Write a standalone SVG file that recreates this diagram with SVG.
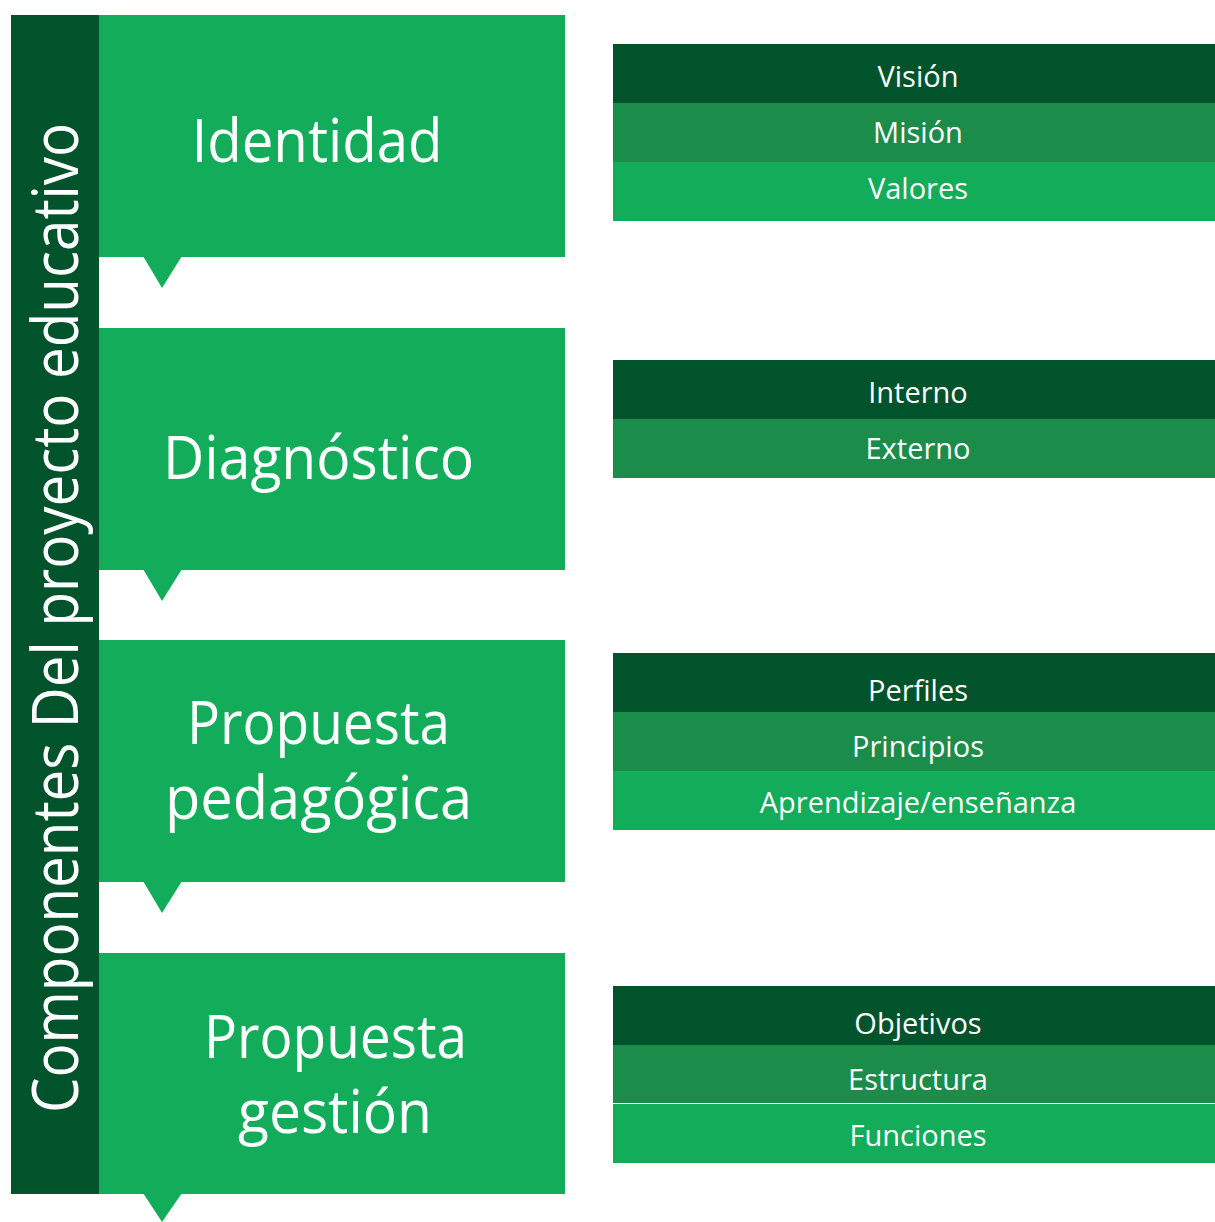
<svg xmlns="http://www.w3.org/2000/svg" width="1215" height="1222" viewBox="0 0 1215 1222">
<style>
.dark{fill:#01532C}
.mid{fill:#1B8C4A}
.light{fill:#13AC5A}
.big{font-family:"Open Sans","Noto Sans","Liberation Sans",sans-serif;font-size:60px;fill:#FFFFFF;text-anchor:middle}
.row{font-family:"Open Sans","Noto Sans","Liberation Sans",sans-serif;font-size:29px;fill:#FFFFFF;text-anchor:middle}
.side{font-family:"Open Sans","Noto Sans","Liberation Sans",sans-serif;font-size:64px;fill:#FFFFFF}
</style>
<rect width="1215" height="1222" fill="#FFFFFF"/>
<g id="title">
<rect class="dark" x="11" y="15" width="88" height="1179"/>
<text class="side" transform="translate(78,1113) rotate(-90)" x="0" y="0" textLength="990" lengthAdjust="spacingAndGlyphs">Componentes Del proyecto educativo</text>
</g>
<g id="identidad">
<rect class="light" x="99" y="15" width="466" height="242"/>
<text class="big" x="317" y="162" textLength="251" lengthAdjust="spacingAndGlyphs">Identidad</text>
</g>
<g id="diagnostico">
<rect class="light" x="99" y="328" width="466" height="242"/>
<text class="big" x="318.5" y="479" textLength="311" lengthAdjust="spacingAndGlyphs">Diagnóstico</text>
</g>
<g id="propuesta-pedagogica">
<rect class="light" x="99" y="640" width="466" height="242"/>
<text class="big" x="318.5" y="744" textLength="263" lengthAdjust="spacingAndGlyphs">Propuesta</text>
<text class="big" x="318.5" y="819" textLength="307" lengthAdjust="spacingAndGlyphs">pedagógica</text>
</g>
<g id="propuesta-gestion">
<rect class="light" x="99" y="953" width="466" height="241"/>
<text class="big" x="335.5" y="1058" textLength="263" lengthAdjust="spacingAndGlyphs">Propuesta</text>
<text class="big" x="335" y="1133" textLength="194" lengthAdjust="spacingAndGlyphs">gestión</text>
</g>
<g id="connectors">
<polygon class="light" points="143,256 182,256 162,288"/>
<polygon class="light" points="143,569 182,569 162,601"/>
<polygon class="light" points="143,881 182,881 162,913"/>
<polygon class="light" points="143,1193 182,1193 162,1222"/>
</g>
<g id="tabla-identidad">
<rect class="dark" x="613" y="44" width="602" height="59"/>
<rect class="mid" x="613" y="103" width="602" height="59"/>
<rect class="light" x="613" y="162" width="602" height="59"/>
<text class="row" x="918" y="87">Visión</text>
<text class="row" x="918" y="143">Misión</text>
<text class="row" x="918" y="199">Valores</text>
</g>
<g id="tabla-diagnostico">
<rect class="dark" x="613" y="360" width="602" height="59"/>
<rect class="mid" x="613" y="419" width="602" height="59"/>
<text class="row" x="918" y="403">Interno</text>
<text class="row" x="918" y="459">Externo</text>
</g>
<g id="tabla-pedagogica">
<rect class="dark" x="613" y="653" width="602" height="59"/>
<rect class="mid" x="613" y="712" width="602" height="59"/>
<rect class="light" x="613" y="771" width="602" height="59"/>
<text class="row" x="918" y="701">Perfiles</text>
<text class="row" x="918" y="757">Principios</text>
<text class="row" x="918" y="813">Aprendizaje/enseñanza</text>
</g>
<g id="tabla-gestion">
<rect class="dark" x="613" y="986" width="602" height="59"/>
<rect class="mid" x="613" y="1045" width="602" height="58"/>
<rect class="light" x="613" y="1104" width="602" height="59"/>
<text class="row" x="918" y="1034">Objetivos</text>
<text class="row" x="918" y="1090">Estructura</text>
<text class="row" x="918" y="1146">Funciones</text>
</g>
</svg>
